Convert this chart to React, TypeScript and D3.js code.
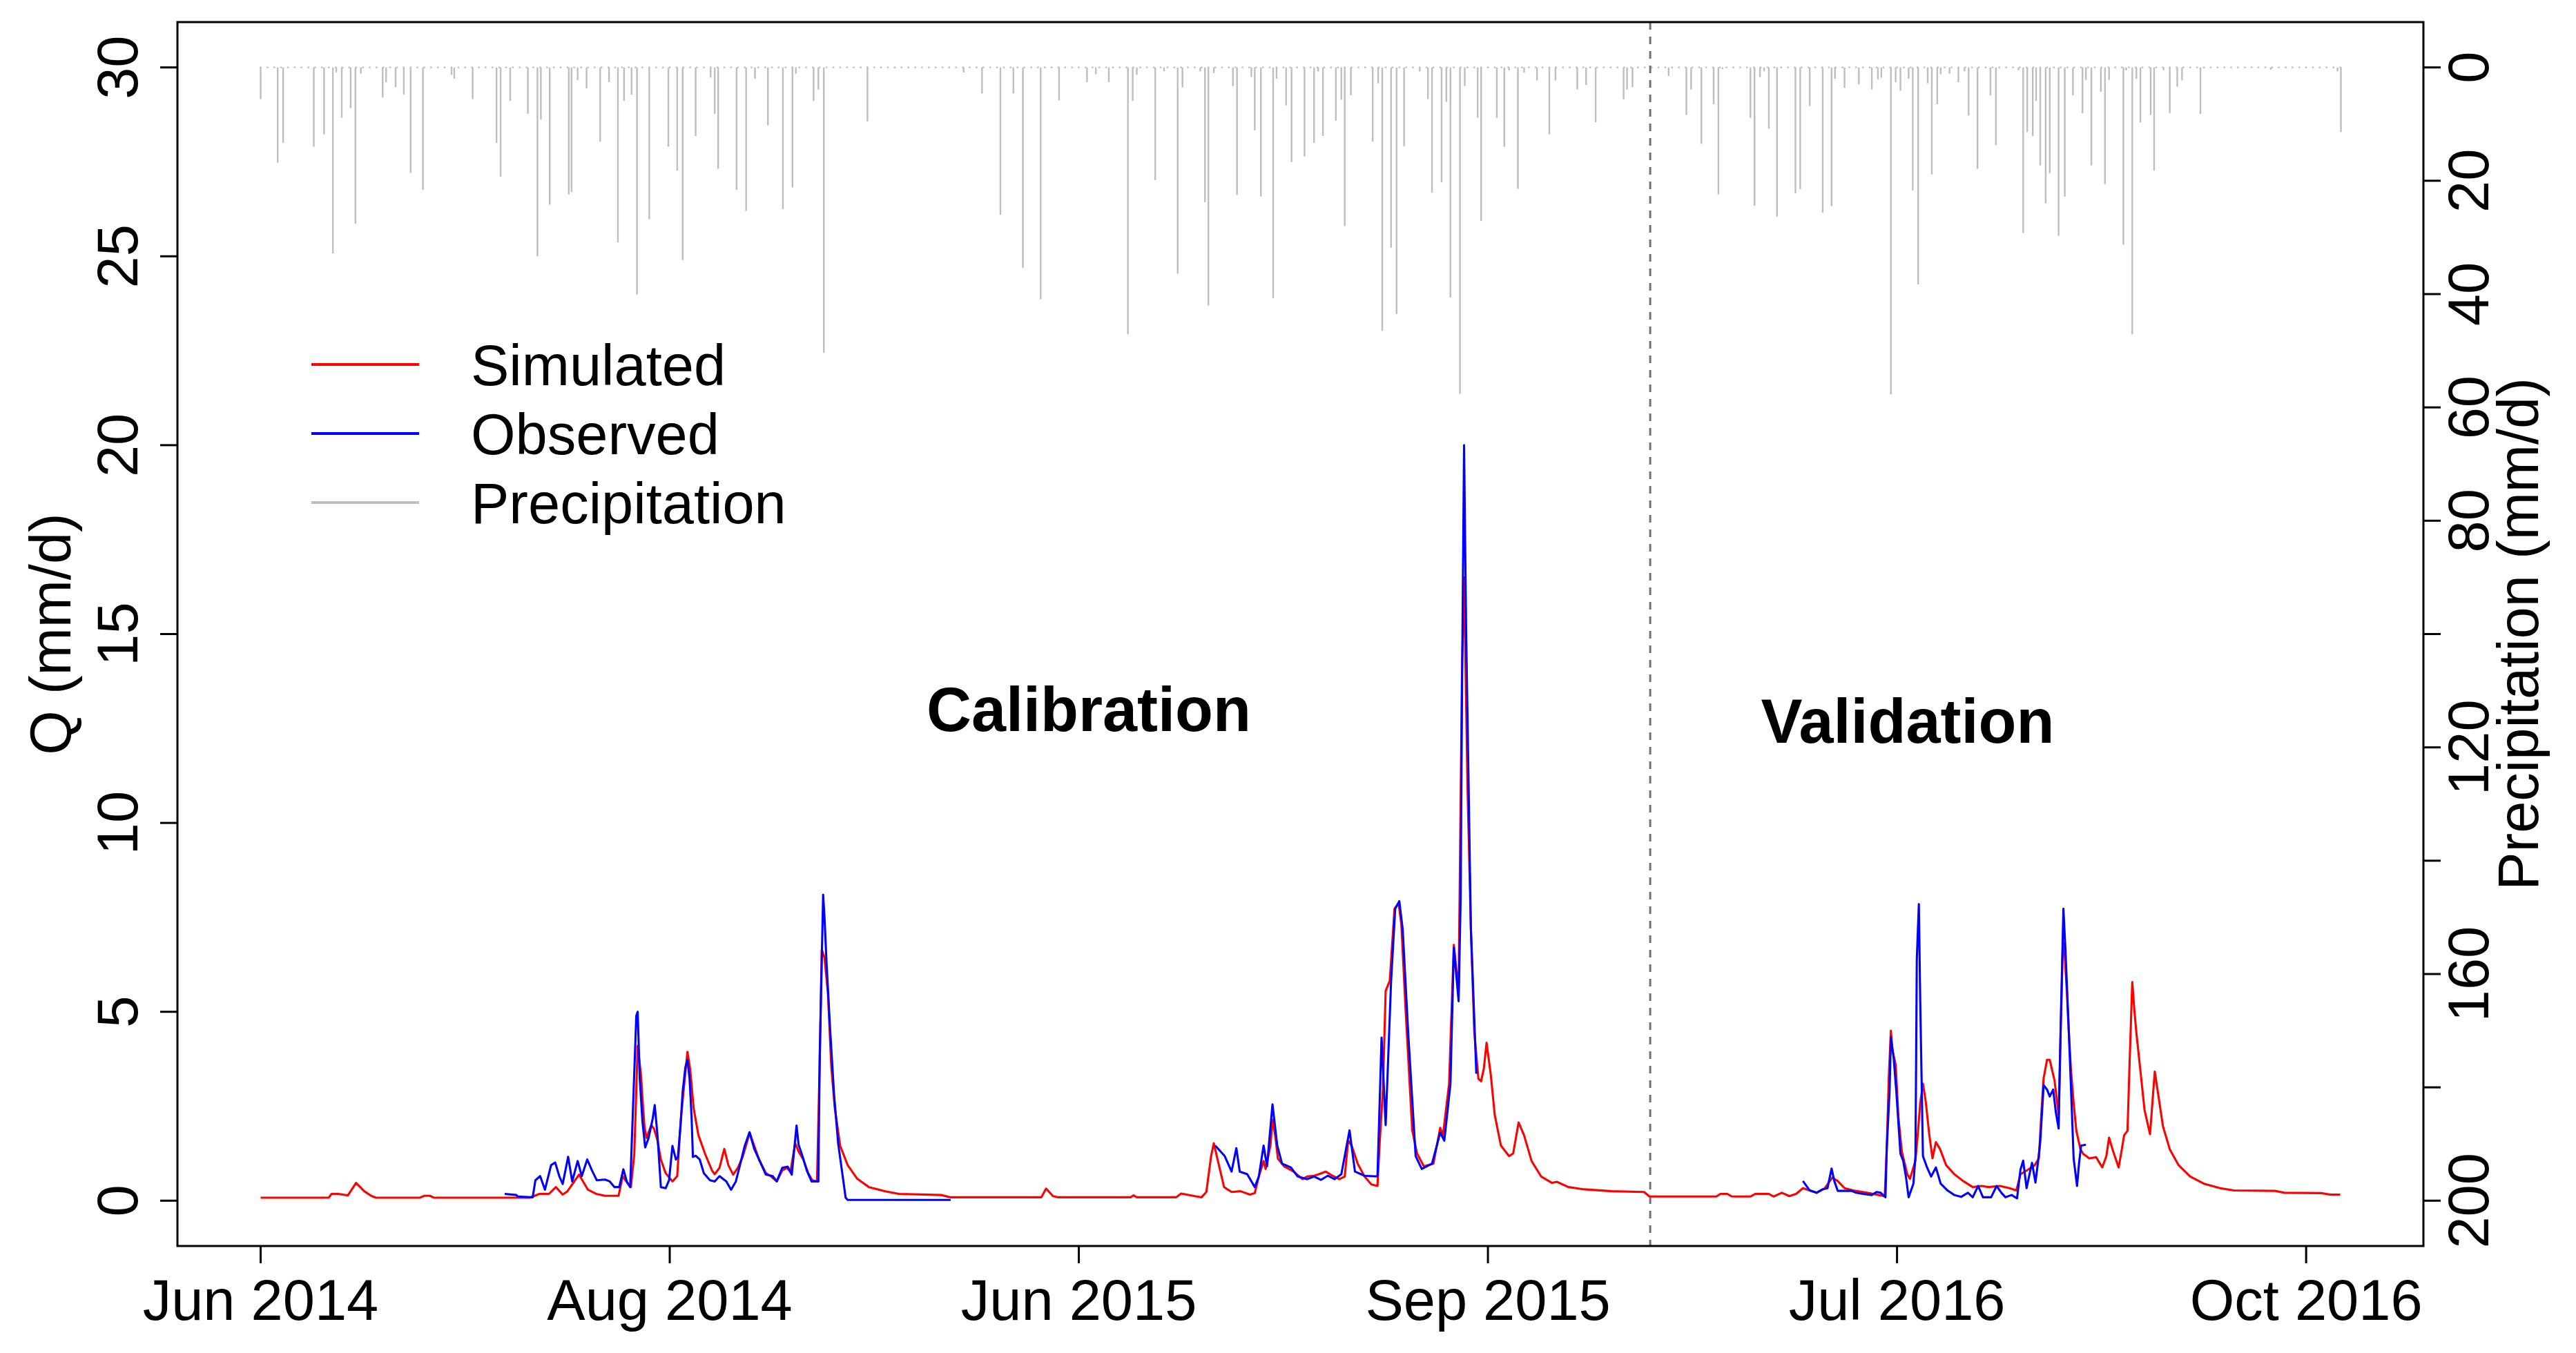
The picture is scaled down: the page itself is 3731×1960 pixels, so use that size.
import React, { useEffect } from "react";
import * as d3 from "d3";

// ---------------- data ----------------
const nDays = 305; // day index of the last record
const xTickDays = [0, 60, 120, 180, 240, 300];
const xTickLabels = ["Jun 2014", "Aug 2014", "Jun 2015", "Sep 2015", "Jul 2016", "Oct 2016"];
const qTicks = [0, 5, 10, 15, 20, 25, 30];
const pTicks = [0, 20, 40, 60, 80, 100, 120, 140, 160, 180, 200];
const pTickLabels = [0, 20, 40, 60, 80, 120, 160, 200];
const splitDay = 203.8; // calibration / validation boundary
const periodLabels = ["Calibration", "Validation"];
const legendLabels = ["Simulated", "Observed", "Precipitation"];

// simulated discharge, mm/d : [day, Q]
const simulated: [number, number][] = [
  [0, 0.08], [10, 0.08], [10.4, 0.18], [11.4, 0.18], [12.8, 0.14], [14, 0.47], [15.2, 0.25], [16.2, 0.13], [16.9, 0.08],
  [23.4, 0.08], [24, 0.13], [24.8, 0.13], [25.4, 0.08], [39.5, 0.08], [40.9, 0.18], [42.3, 0.18], [43.3, 0.36], [44.3, 0.16],
  [45, 0.25], [46.7, 0.69], [48, 0.29], [49.2, 0.18], [50.5, 0.13], [52.5, 0.13], [53.1, 0.65], [53.9, 0.44], [54.3, 0.36],
  [54.8, 1.23], [55.3, 4.1], [55.8, 3.3], [56, 2.7], [56.3, 1.95], [56.6, 1.66], [57.3, 2.0], [57.7, 1.9], [58.2, 1.6],
  [58.7, 1.09], [59.4, 0.73], [60.4, 0.51], [61.1, 0.65], [61.6, 2.1], [62.1, 3.04], [62.6, 3.94], [63, 3.47], [63.5, 2.46],
  [64.2, 1.74], [65.2, 1.23], [66.2, 0.8], [66.6, 0.7], [67.3, 0.87], [68, 1.37], [68.6, 0.94], [69.3, 0.69], [70, 0.87],
  [70.7, 1.16], [71.4, 1.59], [71.7, 1.81], [72.4, 1.45], [73.1, 1.09], [74.1, 0.73], [74.8, 0.65], [75.7, 0.51], [76.5, 0.8],
  [77.2, 0.87], [77.7, 0.76], [78.4, 1.52], [78.9, 1.3], [79.6, 1.09], [80.3, 0.73], [80.9, 0.54], [81.6, 0.51], [82, 3.69],
  [82.3, 6.65], [82.7, 6.43], [83.2, 5.5], [83.7, 3.54], [84.2, 2.46], [85, 1.45], [86.1, 0.94], [87.5, 0.58], [89.2, 0.36],
  [91.6, 0.25], [93.6, 0.18], [99.8, 0.15], [101.2, 0.09], [114.5, 0.09], [115.2, 0.32], [116.2, 0.12], [117, 0.09],
  [127.6, 0.09], [128, 0.14], [128.5, 0.09], [134.3, 0.09], [135, 0.19], [137, 0.12], [138, 0.09], [138.7, 0.23],
  [139.4, 1.18], [139.8, 1.52], [140.4, 1.05], [141.3, 0.36], [142.4, 0.23], [143.7, 0.25], [145.1, 0.16], [145.8, 0.2],
  [146.4, 0.64], [147.1, 1.05], [147.4, 0.84], [148.1, 1.46], [148.4, 2.14], [148.8, 1.73], [149.2, 1.11], [150.1, 0.91],
  [151.5, 0.77], [152.8, 0.57], [153.5, 0.64], [154.5, 0.66], [155.2, 0.7], [156.2, 0.77], [157.2, 0.66], [158.2, 0.57],
  [159, 0.64], [159.5, 1.59], [160, 1.46], [160.9, 0.98], [161.9, 0.64], [162.9, 0.43], [163.8, 0.39], [164.1, 1.46],
  [164.6, 2.95], [165, 5.55], [165.6, 5.82], [166.3, 7.73], [166.9, 7.87], [167.3, 7.32], [167.9, 5.14], [168.9, 1.86],
  [169.6, 1.25], [170.6, 0.91], [172, 0.98], [173, 1.93], [173.4, 1.73], [174.3, 3.09], [175, 6.77], [175.7, 5.55],
  [176.2, 14.0], [176.5, 16.5], [177, 11], [177.5, 7.2], [178, 4.46], [178.6, 3.23], [179, 3.16], [179.4, 3.5], [179.8, 4.18],
  [180.4, 3.36], [181, 2.27], [181.9, 1.46], [183.1, 1.18], [183.7, 1.25], [184.5, 2.07], [185.3, 1.73], [186.4, 1.05],
  [187.8, 0.64], [189.4, 0.47], [190.1, 0.5], [191.8, 0.36], [194.1, 0.3], [198.2, 0.25], [202.9, 0.23], [203.7, 0.11],
  [213.5, 0.11], [214.1, 0.18], [215.1, 0.18], [215.8, 0.11], [218.5, 0.11], [219.2, 0.18], [221.2, 0.18], [221.9, 0.11],
  [223.1, 0.21], [224.2, 0.12], [225.2, 0.18], [226.2, 0.33], [227.2, 0.27], [228.2, 0.21], [229.4, 0.33], [230.5, 0.61],
  [231.3, 0.52], [232.3, 0.33], [233.6, 0.27], [235.6, 0.21], [237.3, 0.15], [238.2, 0.12], [238.5, 1.43], [238.8, 3.3],
  [239.1, 4.5], [239.3, 4.0], [239.8, 3.6], [240.2, 2.21], [240.7, 1.3], [241.1, 1.0], [241.5, 0.7], [241.9, 0.58],
  [242.7, 1.06], [243, 1.67], [243.4, 2.58], [243.8, 3.1], [244.2, 2.64], [244.7, 1.79], [245.2, 1.12], [245.7, 1.55],
  [246.3, 1.37], [247.2, 0.94], [248.4, 0.7], [249.7, 0.52], [251.1, 0.36], [252.4, 0.39], [253.4, 0.36], [255.1, 0.39],
  [256.5, 0.33], [257.5, 0.27], [258.1, 0.7], [259.2, 0.82], [260.2, 0.94], [260.8, 1.12], [261.2, 2.4], [261.5, 3.24],
  [262, 3.73], [262.4, 3.73], [262.7, 3.49], [263.1, 3.18], [263.5, 2.58], [263.7, 2.27], [264, 4.52], [264.3, 6.64],
  [264.5, 6.82], [264.9, 5.55], [265.2, 4.45], [265.5, 3.49], [265.9, 2.58], [266.3, 1.85], [266.9, 1.36], [267.3, 1.24],
  [268.2, 1.12], [269.2, 1.15], [270.1, 0.88], [270.7, 1.18], [271.1, 1.67], [271.6, 1.36], [272.5, 0.88], [272.8, 1.18],
  [273.3, 1.73], [273.8, 1.85], [274.1, 3.6], [274.5, 5.79], [274.8, 5.06], [275.1, 4.45], [275.6, 3.6], [276.3, 2.4],
  [277.1, 1.76], [277.8, 3.42], [278.3, 2.82], [279, 1.97], [280, 1.36], [281.3, 0.94], [283, 0.64], [285, 0.45],
  [287.4, 0.33], [289.4, 0.27], [295.4, 0.26], [296.8, 0.21], [302.2, 0.2], [303.5, 0.16], [305, 0.16],
];

// observed discharge, mm/d : [day, Q], one array per measured stretch
const observed2014: [number, number][] = [
  [35.8, 0.18], [37.5, 0.15], [37.7, 0.11], [39.9, 0.09], [40.3, 0.54], [41, 0.65], [41.7, 0.29], [42.6, 0.94], [43.2, 1.01],
  [43.8, 0.65], [44.3, 0.44], [45.1, 1.16], [45.7, 0.51], [46.5, 1.05], [47.1, 0.65], [47.9, 1.09], [48.6, 0.8], [49.3, 0.54],
  [50.5, 0.56], [51.2, 0.51], [51.9, 0.36], [52.6, 0.36], [53.2, 0.83], [53.7, 0.51], [54.2, 0.36], [55.1, 4.9], [55.3, 5.0],
  [55.6, 3.25], [56, 2.1], [56.4, 1.41], [56.9, 1.66], [57.5, 2.17], [57.8, 2.53], [58.2, 1.74], [58.7, 0.36], [59.4, 0.33],
  [59.9, 0.54], [60.4, 1.45], [60.9, 1.09], [61.2, 1.16], [61.6, 2.02], [61.9, 2.89], [62.3, 3.54], [62.6, 3.72], [62.9, 3.25],
  [63.2, 2.24], [63.4, 1.16], [63.8, 1.19], [64.4, 1.09], [65, 0.73], [65.9, 0.54], [66.6, 0.51], [67.3, 0.65], [68.3, 0.51],
  [69, 0.29], [69.7, 0.51], [70.3, 0.94], [71, 1.45], [71.7, 1.81], [72.4, 1.37], [73.1, 1.09], [74.1, 0.69], [75.1, 0.65],
  [75.7, 0.51], [76.5, 0.87], [77.3, 0.9], [77.9, 0.69], [78.6, 1.99], [78.9, 1.48], [79.5, 1.16], [80.1, 0.8], [80.8, 0.51],
  [81.8, 0.51], [82, 3.83], [82.5, 8.1], [82.7, 7.5], [83, 6.29], [83.5, 4.62], [84.1, 2.82], [84.7, 1.52], [85.8, 0.08],
  [86.1, 0.02], [101.2, 0.02],
];
const observed2015: [number, number][] = [
  [140, 1.46], [141.4, 1.18], [142.4, 0.77], [143.1, 1.39], [143.6, 0.77], [144.7, 0.7], [145.8, 0.36], [146.4, 0.64],
  [147.1, 1.46], [147.6, 0.91], [148.4, 2.55], [149.1, 1.46], [149.8, 0.98], [151.1, 0.88], [152.1, 0.64], [153.5, 0.57],
  [154.5, 0.64], [155.5, 0.55], [156.5, 0.66], [157.5, 0.57], [158.5, 0.7], [159.7, 1.86], [160.5, 0.77], [161.9, 0.66],
  [163.8, 0.64], [164.4, 4.32], [165, 2.0], [165.8, 5.82], [166.4, 7.73], [167, 7.93], [167.5, 7.18], [168.3, 4.46],
  [169.4, 1.18], [170.3, 0.84], [171.8, 0.98], [173, 1.8], [173.6, 1.59], [174.5, 3.09], [175, 6.7], [175.7, 5.28],
  [176, 8.0], [176.2, 13.6], [176.5, 20.0], [176.8, 15.1], [177.5, 7.2], [178.3, 3.36],
];
const observed2016: [number, number][] = [
  [226.2, 0.52], [227.2, 0.27], [228.2, 0.21], [229.1, 0.3], [229.8, 0.33], [230.4, 0.85], [230.8, 0.52], [231.3, 0.26],
  [233.3, 0.26], [234, 0.21], [235, 0.18], [236.3, 0.15], [237, 0.23], [237.6, 0.21], [238.3, 0.09], [238.5, 1.43],
  [238.9, 2.88], [239.1, 4.33], [239.5, 3.79], [239.9, 2.88], [240.5, 1.24], [240.9, 1.06], [241.3, 0.64], [241.7, 0.09],
  [242.4, 0.45], [242.7, 1.18], [242.8, 3.73], [242.9, 6.39], [243.2, 7.85], [243.4, 5.3], [243.6, 3.24], [243.8, 1.18],
  [244.4, 0.88], [245, 0.64], [245.7, 0.88], [246.4, 0.45], [247.4, 0.27], [248.4, 0.15], [249.4, 0.1], [250.4, 0.21],
  [251.1, 0.09], [251.9, 0.39], [252.6, 0.09], [253.8, 0.09], [254.6, 0.39], [255.3, 0.21], [255.9, 0.09], [256.8, 0.15],
  [257.6, 0.06], [258.1, 0.82], [258.5, 1.06], [259, 0.33], [259.5, 0.76], [259.8, 1.0], [260.3, 0.48], [260.7, 1.06],
  [261, 1.55], [261.5, 3.06], [262, 2.94], [262.4, 2.76], [262.9, 2.94], [263.3, 2.33], [263.7, 1.91], [264, 4.58],
  [264.4, 7.73], [264.7, 6.64], [265.2, 4.45], [265.6, 2.58], [265.9, 1.12], [266.4, 0.39], [266.7, 1.0], [267, 1.46],
  [267.7, 1.48],
];

// daily precipitation, mm/d : [day, P]
const precipitation: [number, number][] = [
  [0, 5.6], [2.5, 16.8], [3.3, 13.3], [7.8, 14.0], [9.3, 11.8], [10.6, 32.8], [11.1, 0.9], [11.9, 8.9], [13.2, 7.2],
  [13.9, 27.6], [14.7, 1.1], [17.9, 5.3], [18.4, 2.6], [19.8, 3.5], [21, 4.8], [22, 18.6], [23.8, 21.6], [28, 1.3],
  [28.4, 2], [31.1, 5.6], [34.6, 13.3], [35.2, 19.3], [36.6, 5.9], [39.2, 8.2], [40.6, 33.3], [41.1, 9.2], [42.4, 24.2],
  [45.2, 22.4], [45.6, 22], [46.5, 2.2], [47.8, 3.7], [49.8, 13.1], [51.1, 2.6], [52.4, 30.9], [53.3, 5.9], [54.4, 4.8],
  [55.2, 40.1], [57, 26.8], [59.8, 14], [61.1, 18.2], [61.9, 34], [63.8, 12.1], [66, 1.8], [66.6, 8.2], [67.1, 17.9],
  [69.8, 21.6], [71.2, 25.3], [72.5, 2], [74.4, 10.2], [76.6, 25], [78, 21.2], [78.5, 1.1], [81.1, 5.9], [81.8, 3.9],
  [82.6, 50.4], [89, 9.5],
  [103.1, 0.9], [105.8, 4.6], [108.5, 26], [110.4, 4.6], [111.8, 35.4], [114.4, 40.9], [117.1, 5.8], [121.2, 2.6],
  [122.5, 1.2], [124.4, 2.6], [127.2, 47.1], [127.9, 5.9], [128.5, 1.3], [131.2, 19.9], [132.5, 0.7], [134.5, 36.4],
  [135.2, 3.5], [137.8, 0.7], [138.5, 23.8], [139, 42], [139.8, 1], [142.6, 3.3], [143.2, 22.5], [145.3, 1.7],
  [145.8, 11.1], [146.7, 22.8], [148.5, 40.7], [149, 2], [150.4, 6.7], [151.2, 16.7], [153.1, 15.7], [154.5, 13.3],
  [155.1, 0.7], [155.8, 12.1], [157.7, 9.4], [158.5, 5.7], [159, 28], [159.9, 4.9], [163.1, 13.1], [163.9, 2.8],
  [164.5, 46.5], [165.8, 31.8], [166.6, 43.5], [167.7, 13.9], [170, 0.7], [171.2, 5.6], [171.8, 22.1], [173.2, 20.3],
  [173.9, 6.1], [174.5, 40.6], [175.9, 57.6], [176.6, 3.3], [178.5, 8.9], [179, 27.1], [181.3, 8.9], [182.4, 14],
  [183.1, 0.5], [184.4, 21.4], [185.3, 0.9], [187.2, 2.3], [189, 11.8], [189.9, 2.3], [193.1, 3.9], [194.4, 3.1],
  [195.8, 9.7], [199.9, 5.6], [200.4, 3.9], [201.2, 3.5],
  [206.5, 1.5], [209.1, 8.4], [209.8, 3.9], [211.3, 13.5], [213.1, 6.5], [213.8, 22.4], [214.4, 0.3], [218.5, 8.9],
  [219.1, 24.4], [219.9, 1.7], [220.5, 0.7], [221.2, 10.8], [222.4, 26.3], [225.1, 22.2], [225.8, 21.5], [227.2, 6.8],
  [229.1, 25.6], [230.4, 24.5], [230.9, 2], [232.3, 3.6], [234.4, 3], [236.3, 3.9], [237.2, 2.1], [237.7, 1.8],
  [239.1, 57.7], [239.8, 2.6], [240.5, 4.1], [241.7, 2], [242.3, 21.7], [243.1, 38.3], [244.5, 2.8], [245.1, 18.9],
  [245.9, 6.5], [246.4, 1.2], [247.7, 1.1], [249, 2.6], [249.9, 0.7], [250.5, 8.5], [251.8, 17.9], [253.7, 4.9],
  [254.5, 13.7], [257.8, 0.5], [258.5, 29.2], [259.1, 11.4], [259.9, 12.1], [260.4, 5.9], [261, 17.3], [261.8, 24],
  [262.4, 18.7], [263.7, 29.7], [264.6, 22.8], [265.8, 4.9], [267.2, 8.1], [267.7, 2.2], [268.5, 17.3], [269.9, 4.3],
  [270.5, 20.6], [271.1, 2.2], [273.2, 31.3], [273.6, 0.5], [274.5, 47.1], [275.1, 2], [275.7, 9.7], [277.2, 8.4],
  [277.7, 18.2], [279.1, 0.5], [280, 8.1], [281.1, 3.4], [281.8, 2.3], [284.5, 8.2], [294.8, 0.4], [304.6, 0.7],
  [305.1, 11.4],
];

// ---------------- drawing ----------------
const W = 3731;
const H = 1960;
const FONT = "'Liberation Sans', Arial, Helvetica, sans-serif";
const RED = "#FF0000";
const BLUE = "#0000FF";
const GREY = "#BEBEBE";

export default function App() {
  useEffect(() => {
    document.body.style.margin = "0";
    document.body.style.background = "#ffffff";
  }, []);

  const left = 257, right = 3510, top = 32, bottom = 1805;
  const pad = nDays * 0.04;
  const x = d3.scaleLinear().domain([-pad, nDays + pad]).range([left, right]);
  const yQ = d3.scaleLinear().domain([-1.2, 31.2]).range([bottom, top]);
  const yP = d3.scaleLinear().domain([0, 200]).range([yQ(30), yQ(0)]);

  const line = d3
    .line<[number, number]>()
    .x((d) => x(d[0]))
    .y((d) => yQ(d[1]));

  const step = x(1) - x(0);
  const dot = 2.6;
  const lw = 3.1;
  const fs = 83;

  const legendY = [528, 628, 728];
  const legendColors = [RED, BLUE, GREY];

  return (
    <svg
      width={W}
      height={H}
      viewBox={`0 0 ${W} ${H}`}
      style={{ position: "absolute", left: 0, top: 0, background: "#fff", display: "block" }}
      fontFamily={FONT}
    >
      <rect x={0} y={0} width={W} height={H} fill="#fff" />

      {/* precipitation: dotted zero line (one dot per day) and daily bars */}
      <line
        x1={x(0) - dot / 2}
        x2={x(nDays) + dot / 2}
        y1={yP(0)}
        y2={yP(0)}
        stroke={GREY}
        strokeWidth={2.4}
        strokeDasharray={`${dot} ${step - dot}`}
      />
      {precipitation.map(([d, p], i) => (
        <line key={i} x1={x(d)} x2={x(d)} y1={yP(0)} y2={yP(p)} stroke={GREY} strokeWidth={2.4} />
      ))}

      {/* calibration / validation split */}
      <line
        x1={x(splitDay)}
        x2={x(splitDay)}
        y1={top}
        y2={bottom}
        stroke="#707070"
        strokeWidth={3}
        strokeDasharray="11 10"
      />

      {/* discharge */}
      <path d={line(simulated) || ""} fill="none" stroke={RED} strokeWidth={lw} strokeLinejoin="round" />
      {[observed2014, observed2015, observed2016].map((s, i) => (
        <path key={i} d={line(s) || ""} fill="none" stroke={BLUE} strokeWidth={lw} strokeLinejoin="round" />
      ))}

      {/* box */}
      <rect x={left} y={top} width={right - left} height={bottom - top} fill="none" stroke="#000" strokeWidth={3} />

      {/* left axis */}
      {qTicks.map((v) => (
        <g key={"q" + v}>
          <line x1={left - 25} x2={left} y1={yQ(v)} y2={yQ(v)} stroke="#000" strokeWidth={3} />
          <text
            transform={`translate(${199},${yQ(v)}) rotate(-90)`}
            textAnchor="middle"
            fontSize={fs}
            fill="#000"
          >
            {v}
          </text>
        </g>
      ))}
      <text transform={`translate(${102},${(top + bottom) / 2}) rotate(-90)`} textAnchor="middle" fontSize={fs}>
        Q (mm/d)
      </text>

      {/* right axis (precipitation, reversed) */}
      {pTicks.map((v) => (
        <line key={"p" + v} x1={right} x2={right + 25} y1={yP(v)} y2={yP(v)} stroke="#000" strokeWidth={3} />
      ))}
      {pTickLabels.map((v) => (
        <text
          key={"pl" + v}
          transform={`translate(${3604},${yP(v)}) rotate(-90)`}
          textAnchor="middle"
          fontSize={fs}
        >
          {v}
        </text>
      ))}
      <text transform={`translate(${3676},${(top + bottom) / 2}) rotate(-90)`} textAnchor="middle" fontSize={fs}>
        Precipitation (mm/d)
      </text>

      {/* x axis */}
      {xTickDays.map((d, i) => (
        <g key={"x" + d}>
          <line x1={x(d)} x2={x(d)} y1={bottom} y2={bottom + 25} stroke="#000" strokeWidth={3} />
          <text x={x(d)} y={1912} textAnchor="middle" fontSize={fs}>
            {xTickLabels[i]}
          </text>
        </g>
      ))}

      {/* period labels */}
      <text x={1577} y={1059} textAnchor="middle" fontSize={90} fontWeight="bold">
        {periodLabels[0]}
      </text>
      <text x={2763} y={1076} textAnchor="middle" fontSize={90} fontWeight="bold">
        {periodLabels[1]}
      </text>

      {/* legend */}
      {legendLabels.map((lab, i) => (
        <g key={lab}>
          <line x1={451} x2={607} y1={legendY[i]} y2={legendY[i]} stroke={legendColors[i]} strokeWidth={lw + 1} />
          <text x={682} y={legendY[i] + 30} fontSize={fs}>
            {lab}
          </text>
        </g>
      ))}
    </svg>
  );
}
